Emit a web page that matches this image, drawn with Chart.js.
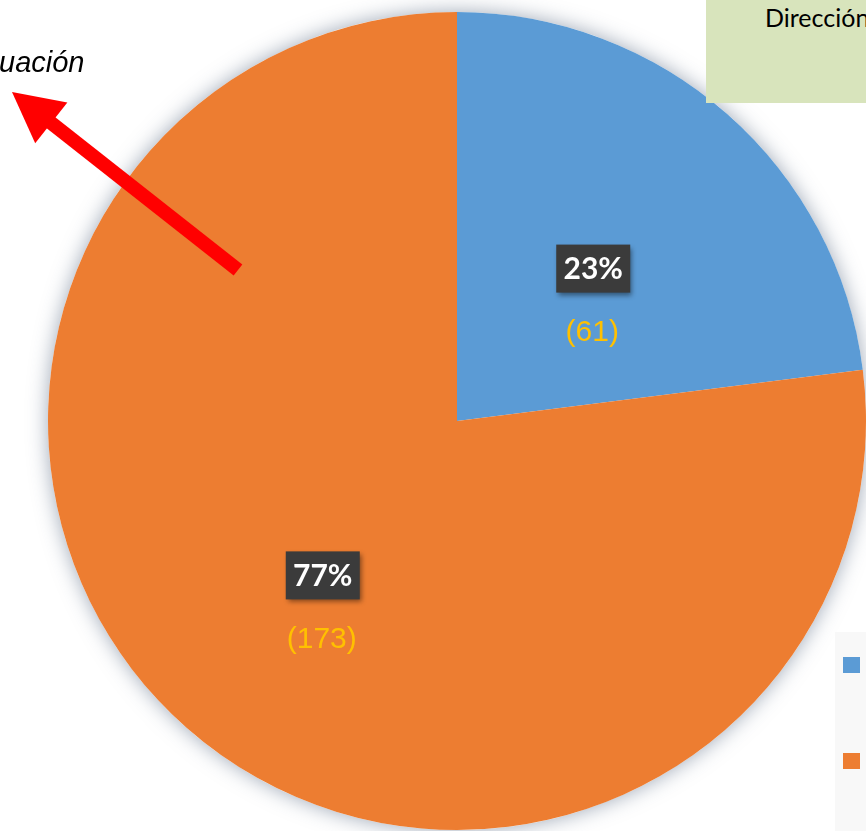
<!DOCTYPE html>
<html>
<head>
<meta charset="utf-8">
<script src="https://cdn.jsdelivr.net/npm/chart.js@4/dist/chart.umd.min.js"></script>
<style>
  body { margin: 0; background: #fff; overflow: hidden; }
  #wrap { position: relative; width: 866px; height: 831px; overflow: hidden; }
  #note { position: absolute; left: -1px; top: 48px; font: italic 29px/1 "Liberation Sans", Arial, sans-serif; color: #000; white-space: nowrap; }
  #box { position: absolute; left: 706px; top: 0; width: 170px; height: 103px; background: #d8e4bc; }
  #box span { position: absolute; left: 59px; top: 2px; font: 25px "Lato", sans-serif; color: #000; white-space: nowrap; }
</style>
</head>
<body>
<div id="wrap">
  <canvas id="myChart" width="866" height="831"></canvas>
  <div id="note">uación</div>
  <div id="box"><span>Dirección</span></div>
</div>
<script>
'use strict'

// pie data
let categories = ['Sí', 'No'];
let percentages = [23, 77];
let counts = [61, 173];
let sliceColors = ['#5b9bd5', '#ed7d31'];

// soft glow round the pie
const pieShadow = {
  id: 'pieShadow',
  beforeDatasetsDraw(chart) {
    let arc = chart.getDatasetMeta(0).data[0];
    let ctx = chart.ctx;
    ctx.save();
    ctx.shadowColor = 'rgba(60,80,110,0.5)';
    ctx.shadowBlur = 20;
    ctx.fillStyle = '#ffffff';
    ctx.beginPath();
    ctx.arc(arc.x, arc.y, arc.outerRadius, 0, Math.PI * 2);
    ctx.fill();
    ctx.restore();
  }
};

// percent in dark box + count under it
const sliceLabels = {
  id: 'sliceLabels',
  afterDatasetsDraw(chart) {
    let ctx = chart.ctx;
    let meta = chart.getDatasetMeta(0);
    meta.data.forEach((arc, i) => {
      let p = arc.tooltipPosition();
      let w = 74, h = 48;
      ctx.save();
      ctx.shadowColor = 'rgba(0,0,0,0.45)';
      ctx.shadowBlur = 5;
      ctx.shadowOffsetX = 2;
      ctx.shadowOffsetY = 3;
      ctx.fillStyle = '#3b3b3b';
      ctx.fillRect(p.x - w / 2 + 1, p.y - h / 2 + 1, w, h);
      ctx.restore();

      ctx.save();
      ctx.fillStyle = '#ffffff';
      ctx.font = 'bold 30px Lato, sans-serif';
      ctx.textAlign = 'center';
      ctx.textBaseline = 'middle';
      ctx.fillText(percentages[i] + '%', p.x + 1, p.y + 2);

      ctx.fillStyle = '#ffc000';
      ctx.font = '30px "Liberation Sans", Arial, sans-serif';
      ctx.fillText('(' + counts[i] + ')', p.x, p.y + 65);
      ctx.restore();
    });
  }
};

// red arrow pointing at the note, plus the cut-off legend strip
const arrow = {
  id: 'arrow',
  afterDraw(chart) {
    let ctx = chart.ctx;
    let tail = [238, 270], tip = [12, 92];
    let dx = tip[0] - tail[0], dy = tip[1] - tail[1];
    let len = Math.hypot(dx, dy);
    let ux = dx / len, uy = dy / len;
    let headLen = 50, headHalf = 26;
    let bx = tip[0] - ux * headLen, by = tip[1] - uy * headLen;
    ctx.save();
    ctx.strokeStyle = '#ff0000';
    ctx.lineWidth = 14;
    ctx.beginPath();
    ctx.moveTo(tail[0], tail[1]);
    ctx.lineTo(bx + ux * 4, by + uy * 4);
    ctx.stroke();
    ctx.fillStyle = '#ff0000';
    ctx.beginPath();
    ctx.moveTo(tip[0], tip[1]);
    ctx.lineTo(bx - uy * headHalf, by + ux * headHalf);
    ctx.lineTo(bx + uy * headHalf, by - ux * headHalf);
    ctx.closePath();
    ctx.fill();
    ctx.restore();

    ctx.save();
    ctx.fillStyle = '#f8f8f8';
    ctx.fillRect(835, 632, 40, 210);
    sliceColors.forEach((c, i) => {
      ctx.fillStyle = c;
      ctx.fillRect(843, 657 + i * 96, 17, 16);
    });
    ctx.restore();
  }
};

const ctx = document.getElementById('myChart');

new Chart(ctx, {
  type: 'pie',
  data: {
    labels: categories,
    datasets: [{
      data: percentages,
      backgroundColor: sliceColors,
      borderWidth: 0
    }]
  },
  options: {
    responsive: false,
    animation: false,
    layout: {
      padding: { left: 48, top: 12, right: 0, bottom: 1 }
    },
    plugins: {
      legend: { display: false },
      tooltip: { enabled: false }
    }
  },
  plugins: [pieShadow, sliceLabels, arrow]
});
</script>
</body>
</html>
